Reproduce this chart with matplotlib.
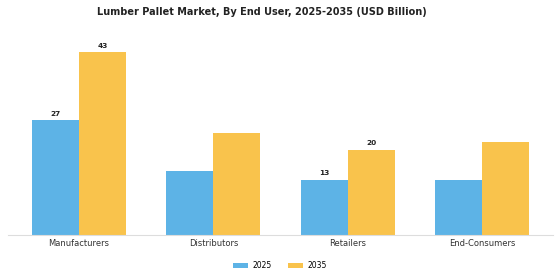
import numpy as np
import matplotlib
matplotlib.use("Agg")
import matplotlib.pyplot as plt

categories = ["Manufacturers", "Distributors", "Retailers", "End-Consumers"]
vals_2025 = [27, 15, 13, 13]
vals_2035 = [43, 24, 20, 22]
# which bars carry a value label
show_2025 = [True, False, True, False]
show_2035 = [True, False, True, False]

c2025 = "#5DB3E6"
c2035 = "#F9C34C"

fig = plt.figure(figsize=(5.6, 2.8), dpi=100)
ax = fig.add_axes([0.014, 0.161, 0.974, 0.70])

x = np.arange(len(categories))
w = 0.35
b1 = ax.bar(x - w / 2, vals_2025, w, color=c2025, label="2025")
b2 = ax.bar(x + w / 2, vals_2035, w, color=c2035, label="2035")

for bars, vals, show in ((b1, vals_2025, show_2025), (b2, vals_2035, show_2035)):
    for r, v, s in zip(bars, vals, show):
        if s:
            ax.text(r.get_x() + r.get_width() / 2, v + 0.9, str(v), ha="center", va="bottom",
                    fontsize=5.3, fontweight="bold", color="#222222")

ax.set_xlim(-0.53, 3.53)
ax.set_ylim(0, 46.2)
ax.set_xticks(x)
ax.set_xticklabels(categories, fontsize=6, color="#333333")
ax.tick_params(axis="x", length=0, pad=3)
ax.set_yticks([])
for s in ["top", "right", "left"]:
    ax.spines[s].set_visible(False)
ax.spines["bottom"].set_color("#dddddd")
ax.spines["bottom"].set_linewidth(0.8)

fig.suptitle("Lumber Pallet Market, By End User, 2025-2035 (USD Billion)", fontsize=7,
             fontweight="bold", color="#222222", x=0.467, y=0.975)
fig.legend(loc="lower center", ncol=2, bbox_to_anchor=(0.5, 0.01), frameon=False, fontsize=5.5,
           handlelength=1.9, handleheight=0.6, handletextpad=0.6, columnspacing=2.2)

fig.savefig("out.png", dpi=100)
